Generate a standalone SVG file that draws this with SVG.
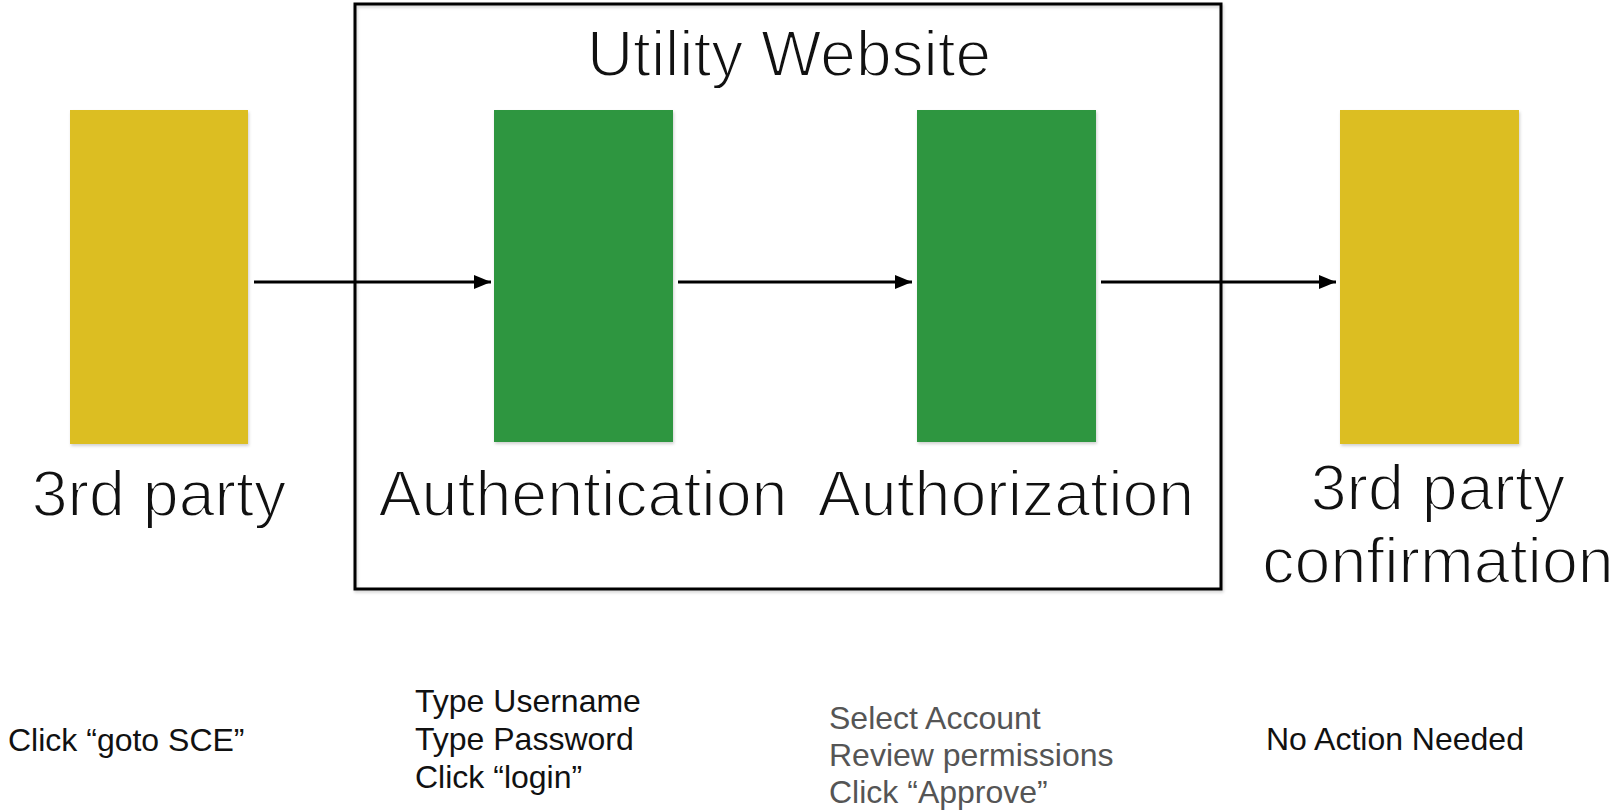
<svg xmlns="http://www.w3.org/2000/svg" width="1610" height="812" viewBox="0 0 1610 812">
  <style>
    .lbl { font-family: "Liberation Sans", Arial, sans-serif; fill: #111; }
    /* large captions: a white outline trims the strokes to a light weight */
    .big { font-size: 64.5px; text-anchor: middle; stroke: #fff; stroke-width: 1.8px; }
    .title { font-size: 64px; text-anchor: middle; stroke: #fff; stroke-width: 1.8px; }
    .note { font-size: 32px; }
    .note-grey { font-size: 32px; fill: #555; }
    .yellow { fill: #dcbe24; }
    .green { fill: #2e9640; }
    .conn { stroke: #000; stroke-width: 3; fill: none; marker-end: url(#arrow); }
  </style>
  <defs>
    <marker id="arrow" viewBox="0 0 17 14" refX="17" refY="7" markerWidth="17" markerHeight="14" markerUnits="userSpaceOnUse" orient="auto">
      <path d="M0,0 L17,7 L0,14 z" fill="#000"/>
    </marker>
    <filter id="soft" x="-10%" y="-10%" width="120%" height="120%">
      <feDropShadow dx="1" dy="2" stdDeviation="1.5" flood-color="#000" flood-opacity="0.18"/>
    </filter>
  </defs>

  <rect width="1610" height="812" fill="#fff"/>

  <!-- utility website container -->
  <g id="utility-website">
    <rect x="355" y="4" width="866" height="585" fill="none" stroke="#000" stroke-width="3" filter="url(#soft)"/>
    <text class="lbl title" x="789" y="76">Utility Website</text>
  </g>

  <!-- connectors -->
  <g id="connectors">
    <path class="conn" d="M254,282 H491"/>
    <path class="conn" d="M678,282 H912"/>
    <path class="conn" d="M1101,282 H1336"/>
  </g>

  <g id="third-party">
    <rect class="yellow" x="70" y="110" width="178" height="334" filter="url(#soft)"/>
    <text class="lbl big" x="159" y="516">3rd party</text>
    <text class="lbl note" x="8" y="751">Click “goto SCE”</text>
  </g>

  <g id="authentication">
    <rect class="green" x="494" y="110" width="179" height="332" filter="url(#soft)"/>
    <text class="lbl big" x="583" y="516">Authentication</text>
    <text class="lbl note" x="415" y="712">Type Username</text>
    <text class="lbl note" x="415" y="750">Type Password</text>
    <text class="lbl note" x="415" y="788">Click “login”</text>
  </g>

  <g id="authorization">
    <rect class="green" x="917" y="110" width="179" height="332" filter="url(#soft)"/>
    <text class="lbl big" x="1006" y="516">Authorization</text>
    <text class="lbl note-grey" x="829" y="729">Select Account</text>
    <text class="lbl note-grey" x="829" y="766">Review permissions</text>
    <text class="lbl note-grey" x="829" y="803">Click “Approve”</text>
  </g>

  <g id="third-party-confirmation">
    <rect class="yellow" x="1340" y="110" width="179" height="334" filter="url(#soft)"/>
    <text class="lbl big" x="1438" y="510">3rd party</text>
    <text class="lbl big" x="1438" y="583">confirmation</text>
    <text class="lbl note" x="1266" y="750">No Action Needed</text>
  </g>
</svg>
